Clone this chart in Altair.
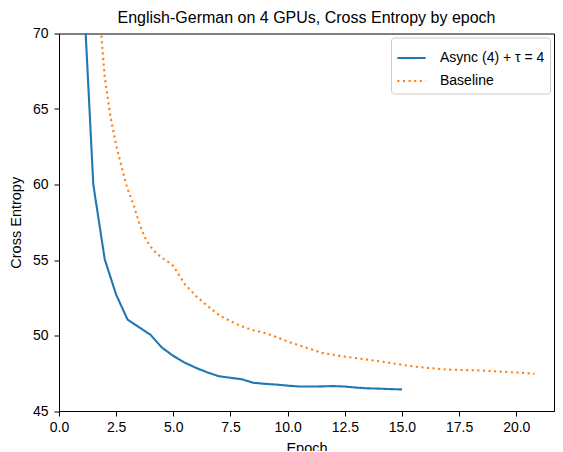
import altair as alt
import pandas as pd

series_names = ["Async (4) + τ = 4", "Baseline"]
series_colors = ["#1f77b4", "#ff7f0e"]

async_epoch = [1.0, 1.5, 2.0, 2.5, 3.0, 3.5, 4.0, 4.5, 5.0, 5.5, 6.0, 6.5, 7.0, 7.5,
               8.0, 8.5, 9.0, 9.5, 10.0, 10.5, 11.0, 11.5, 12.0, 12.5, 13.0, 13.5,
               14.0, 14.5, 15.0]
async_ce = [75.0, 60.0, 55.05, 52.7, 51.05, 50.55, 50.05, 49.2, 48.65, 48.2, 47.85,
            47.55, 47.3, 47.2, 47.1, 46.87, 46.8, 46.75, 46.68, 46.62, 46.62, 46.63,
            46.65, 46.62, 46.55, 46.5, 46.48, 46.45, 46.43]

base_epoch = [1.5, 1.75, 2.0, 2.25, 2.5, 2.75, 3.0, 3.25, 3.5, 3.75, 4.0, 4.25, 4.5,
              4.75, 5.0, 5.5, 6.0, 6.5, 7.0, 7.5, 8.0, 8.5, 9.0, 9.5, 10.0, 10.5,
              11.0, 11.5, 12.0, 12.5, 13.0, 13.5, 14.0, 14.5, 15.0, 15.5, 16.0, 16.5,
              17.0, 17.5, 18.0, 18.5, 19.0, 19.5, 20.0, 20.5, 20.8]
base_ce = [78.0, 71.8, 67.1, 64.5, 62.6, 61.1, 59.7, 58.7, 57.5, 56.5, 55.9, 55.45,
           55.15, 54.9, 54.6, 53.4, 52.6, 51.95, 51.35, 50.95, 50.6, 50.35, 50.17,
           49.9, 49.6, 49.35, 49.1, 48.85, 48.72, 48.6, 48.5, 48.4, 48.3, 48.18,
           48.06, 47.95, 47.87, 47.8, 47.74, 47.72, 47.7, 47.68, 47.63, 47.59, 47.55,
           47.5, 47.47]

x_ticks = [0, 2.5, 5, 7.5, 10, 12.5, 15, 17.5, 20]
y_ticks = [45, 50, 55, 60, 65, 70]

df = pd.concat([
    pd.DataFrame({"epoch": async_epoch, "ce": async_ce, "series": series_names[0]}),
    pd.DataFrame({"epoch": base_epoch, "ce": base_ce, "series": series_names[1]}),
])

FONT = "Liberation Sans"

legend = alt.Legend(
    title=None, orient="top-right", offset=4, symbolType="stroke",
    symbolSize=800, symbolStrokeWidth=2.1, labelFontSize=14, labelFont=FONT,
    labelColor="black", labelOffset=13, rowPadding=0, padding=5,
    strokeColor="#cccccc", fillColor="white", cornerRadius=3,
)

chart = alt.Chart(df).mark_line(clip=True, strokeWidth=2.1, strokeCap="butt").encode(
    x=alt.X("epoch:Q", title="Epoch",
            scale=alt.Scale(domain=[0, 21.65], nice=False, zero=False),
            axis=alt.Axis(values=x_ticks, format=".1f", labelFlush=False)),
    y=alt.Y("ce:Q", title="Cross Entropy",
            scale=alt.Scale(domain=[45, 70], nice=False, zero=False),
            axis=alt.Axis(values=y_ticks, format="d", labelPadding=6, titlePadding=9,
                          labelFlush=False)),
    color=alt.Color("series:N", scale=alt.Scale(domain=series_names, range=series_colors),
                    legend=legend),
    strokeDash=alt.StrokeDash("series:N",
                              scale=alt.Scale(domain=series_names, range=[[1, 0], [2.1, 3.5]]),
                              legend=legend),
).properties(
    width=495, height=377.5,
    autosize=alt.AutoSizeParams(type="none"),
    padding={"left": 51, "top": 25.5, "right": 1, "bottom": 40},
    title=alt.Title("English-German on 4 GPUs, Cross Entropy by epoch",
                    fontSize=16, font=FONT, fontWeight="normal", color="black",
                    anchor="middle", offset=1),
).configure_view(
    stroke="black", strokeWidth=1
).configure_axis(
    grid=False, domainColor="black", tickColor="black", tickSize=5,
    labelFontSize=14, titleFontSize=14.5, labelFont=FONT, titleFont=FONT,
    labelColor="black", titleColor="black", titleFontWeight="normal",
    labelPadding=4, titlePadding=7,
)

chart.save("out.html", embed_options={"renderer": "svg", "actions": False})
